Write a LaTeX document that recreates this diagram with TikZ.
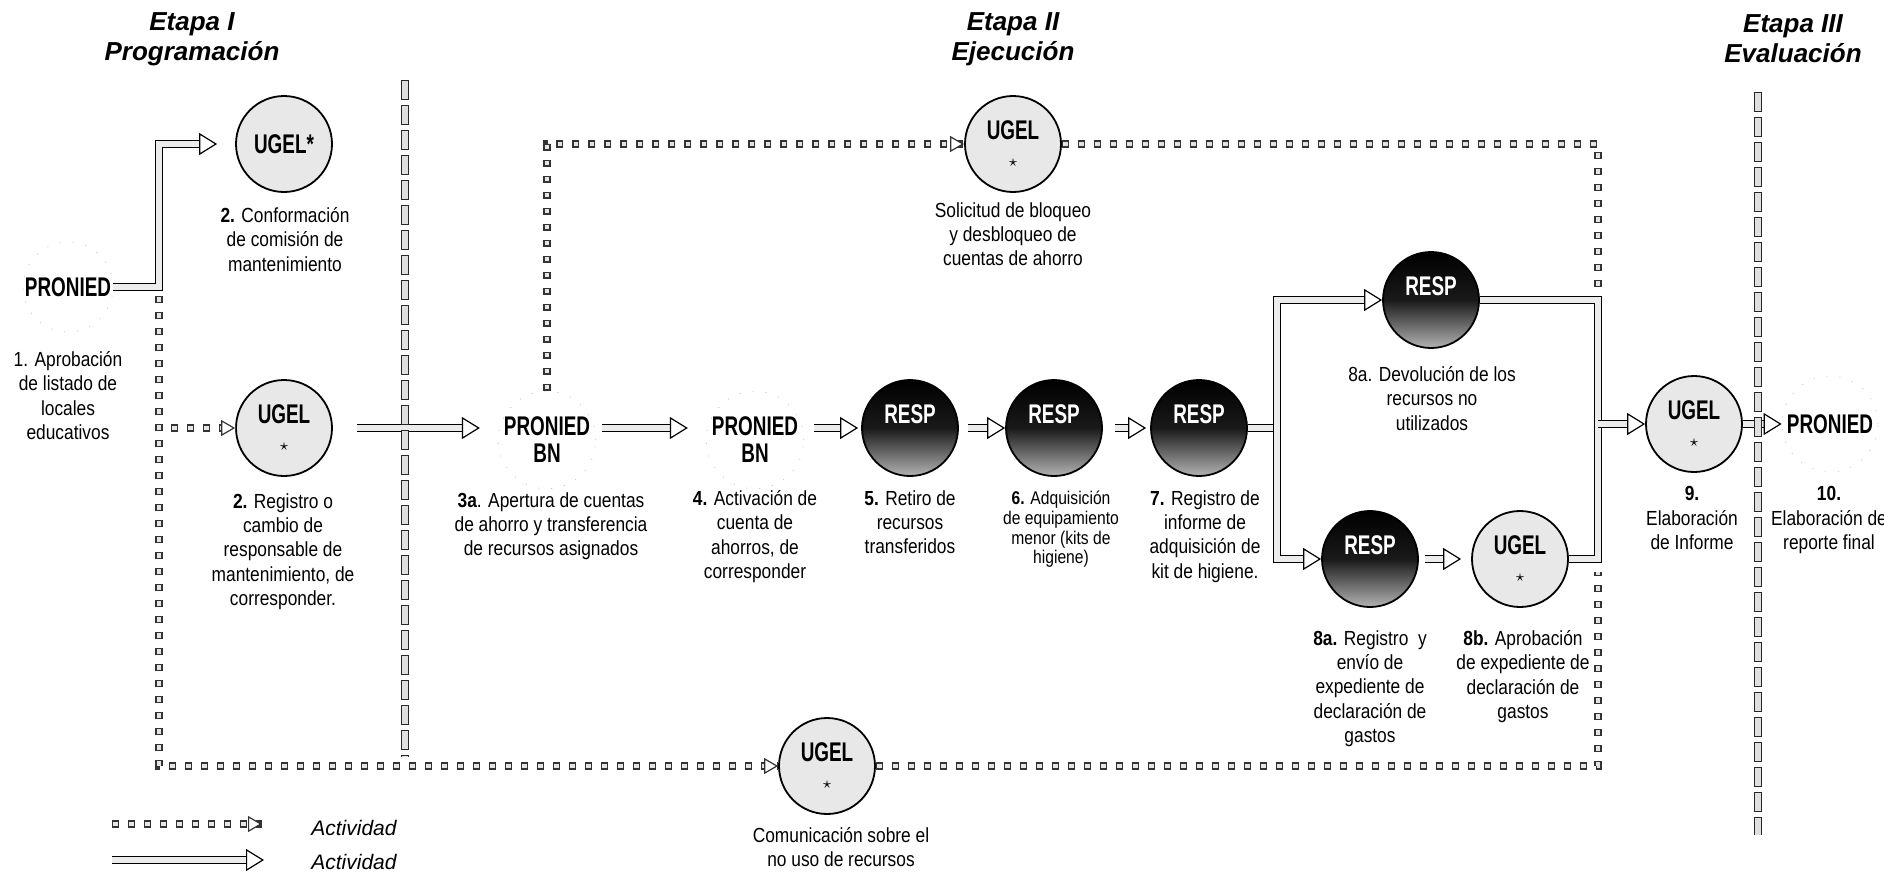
\documentclass[tikz,border=0pt]{standalone}
\usepackage{fontspec}
\setmainfont{Liberation Sans}[FakeStretch=0.85]
\newfontfamily\anchafont{Liberation Sans}
\newfontfamily\siglafont{Liberation Sans}[FakeStretch=0.7]
\usetikzlibrary{arrows.meta}
\newcommand\letra{\fontsize{10.2}{12.2}\selectfont}
\newcommand\letrachica{\fontsize{9.2}{9.8}\selectfont}
\newcommand\sigla{\siglafont\fontsize{13.5}{13.5}\selectfont\bfseries}
\newcommand\titulo{\anchafont\fontsize{13}{15}\selectfont\bfseries\itshape}
\newcommand\estrella{{\fontsize{8}{8}\selectfont$\star$}}
\begin{document}
\begin{tikzpicture}[x=0.5pt, y=-0.5pt,
    punta/.tip={Triangle[open, length=9pt, width=11pt, line width=0.6pt]},
    ugel/.style={circle, draw, line width=0.9pt, fill=gray!18, minimum size=48pt,
      inner sep=0pt, align=center, font=\sigla},
    resp/.style={circle, draw, line width=0.9pt, top color=black, bottom color=gray!60,
      middle color=black!90, minimum size=48pt, inner sep=0pt, align=center,
      text=white, font=\sigla},
    pron/.style={circle, draw=gray!45, dash pattern=on 0.5pt off 6pt, minimum size=48pt,
      inner sep=0pt, align=center, font=\sigla},
    etiqueta/.style={anchor=north, inner sep=0pt, align=center, font=\letra},
    etapa/.style={align=center, inner sep=0pt, font=\titulo},
    flecha/.style={line width=0.6pt, double=gray!15, double distance=3pt, -punta},
    puntos/.style={preaction={draw=black!80, line width=3.6pt,
        dash pattern=on 3.6pt off 4.4pt, dash phase=0pt, arrows=-},
      draw=gray!20, line width=2.2pt, dash pattern=on 2.2pt off 5.8pt, dash phase=7.3pt,
      -{Triangle[color=black!80, fill=white, line width=0.6pt, length=7pt, width=8pt]}},
    divisor/.style={preaction={draw=black!85, line width=4pt,
        dash pattern=on 10pt off 2.5pt, dash phase=0pt},
      draw=gray!25, line width=2.8pt, dash pattern=on 8.8pt off 3.7pt, dash phase=11.9pt}]
  \useasboundingbox (0,0) rectangle (1884,873);

  % etapas
  \node[etapa] (et1) at (192,39) {Etapa I\\Programación};
  \node[etapa] (et2) at (1013,39) {Etapa II\\Ejecución};
  \node[etapa] (et3) at (1793,39) {Etapa III\\Evaluación};

  % actores
  \node[pron, minimum size=45pt] (pron1) at (68,287) {PRONIED};
  \node[ugel] (ugelA) at (284,144) {UGEL*};
  \node[ugel] (ugelB) at (284,428) {UGEL\\\estrella};
  \node[pron] (pronB) at (547,440) {PRONIED\\BN};
  \node[pron] (pronC) at (755,440) {PRONIED\\BN};
  \node[resp] (resp5) at (910,428) {RESP\\\mbox{}};
  \node[resp] (resp6) at (1054,428) {RESP\\\mbox{}};
  \node[resp] (resp7) at (1199,428) {RESP\\\mbox{}};
  \node[resp] (respT) at (1431,300) {RESP\\\mbox{}};
  \node[resp] (respR) at (1370,559) {RESP\\\mbox{}};
  \node[ugel] (ugelR) at (1520,559) {UGEL\\\estrella};
  \node[ugel] (ugel9) at (1694,424) {UGEL\\\estrella};
  \node[pron] (pron10) at (1830,424) {PRONIED};
  \node[ugel] (ugelT) at (1013,144) {UGEL\\\estrella};
  \node[ugel] (ugelC) at (827,766) {UGEL\\\estrella};

  % textos
  \node[etiqueta] (t1) at (68,351) {1. Aprobación\\de listado de\\locales\\educativos};
  \node[etiqueta] (t2a) at (285,207) {\textbf{2.} Conformación\\de comisión de\\mantenimiento};
  \node[etiqueta] (t2b) at (283,493)
    {\textbf{2.} Registro o\\cambio de\\responsable de\\mantenimiento, de\\corresponder.};
  \node[etiqueta] (t3) at (551,492)
    {\textbf{3a}. Apertura de cuentas\\de ahorro y transferencia\\de recursos asignados};
  \node[etiqueta] (t4) at (755,490) {\textbf{4.} Activación de\\cuenta de\\ahorros, de\\corresponder};
  \node[etiqueta] (t5) at (910,490) {\textbf{5.} Retiro de\\recursos\\transferidos};
  \node[etiqueta, font=\letrachica] (t6) at (1061,491)
    {\textbf{6.} Adquisición\\de equipamiento\\menor (kits de\\higiene)};
  \node[etiqueta] (t7) at (1205,490)
    {\textbf{7.} Registro de\\informe de\\adquisición de\\kit de higiene.};
  \node[etiqueta] (t8) at (1432,366) {8a. Devolución de los\\recursos no\\utilizados};
  \node[etiqueta] (t8a) at (1370,630)
    {\textbf{8a.} Registro\ \ y\\envío de\\expediente de\\declaración de\\gastos};
  \node[etiqueta] (t8b) at (1523,630)
    {\textbf{8b.} Aprobación\\de expediente de\\declaración de\\gastos};
  \node[etiqueta] (t9) at (1692,486) {\textbf{9.}\\Elaboración\\de Informe};
  \node[etiqueta] (t10) at (1829,486) {\textbf{10.}\\Elaboración de\\reporte final};
  \node[etiqueta] (tS) at (1013,202) {Solicitud de bloqueo\\y desbloqueo de\\cuentas de ahorro};
  \node[etiqueta] (tC) at (841,827) {Comunicación sobre el\\no uso de recursos};

  % puntos de paso
  \coordinate (e1) at (159,296);
  \coordinate (e2) at (159,766);
  \coordinate (e3) at (171,428);
  \coordinate (e5) at (1598,296);
  \coordinate (e6) at (1598,572);
  \coordinate (e7) at (1277,428);
  \coordinate (e8) at (1598,424);

  % actividades punteadas
  \draw[puntos] (e1) -- (e2) -- (ugelC.west);
  \draw[puntos] (e3) -- (ugelB.west);
  \draw[puntos] (pronB.north) -- (pronB.north |- ugelT.west) -- (ugelT.west);
  \draw[puntos, arrows=-] (ugelT.east) -- (ugelT.east -| e5) -- (e5);
  \draw[puntos, arrows=-] (ugelC.east) -- (ugelC.east -| e6) -- (e6);

  % actividades
  \draw[flecha, shorten >=9pt] (pron1.east) -- (pron1.east -| e1) |- (ugelA.west);
  \draw[flecha, shorten <=12pt, shorten >=9pt] (ugelB.east) -- (ugelB.east -| pronB.west);
  \draw[flecha, shorten <=3pt, shorten >=9pt] (pronB.east |- ugelB) -- (pronC.west |- ugelB);
  \draw[flecha, shorten <=5pt, shorten >=1.5pt] (pronC.east |- resp5) -- (resp5.west);
  \draw[flecha, shorten <=4.5pt] (resp5.east) -- (resp6.west);
  \draw[flecha, shorten <=6pt, shorten >=2pt] (resp6.east) -- (resp7.west);
  \draw[flecha, arrows=-] (resp7.east) -- (e7);
  \draw[flecha, punta-punta] (respT.west) -| (e7) |- (respR.west);
  \draw[flecha, shorten <=3pt, shorten >=5pt] (respR.east) -- (ugelR.west);
  \draw[flecha, arrows=-] (respT.east) -| (e8) |- (ugelR.east);
  \draw[flecha] (e8) -- (ugel9.west);
  \draw[flecha] (ugel9.east) -- (pron10.west);

  % divisiones entre etapas
  \draw[divisor] (405,80) -- (405,757);
  \draw[divisor] (1758,92) -- (1758,835);

  % leyenda
  \coordinate (ley1a) at (112,824);
  \coordinate (ley1b) at (262,824);
  \coordinate (ley2a) at (112,860);
  \coordinate (ley2b) at (264,860);
  \node[font=\anchafont\fontsize{10.5}{12}\selectfont\itshape] (ley1) at (354,828) {Actividad};
  \node[font=\anchafont\fontsize{10.5}{12}\selectfont\itshape] (ley2) at (354,862) {Actividad};
  \draw[puntos] (ley1a) -- (ley1b);
  \draw[flecha] (ley2a) -- (ley2b);
\end{tikzpicture}
\end{document}
